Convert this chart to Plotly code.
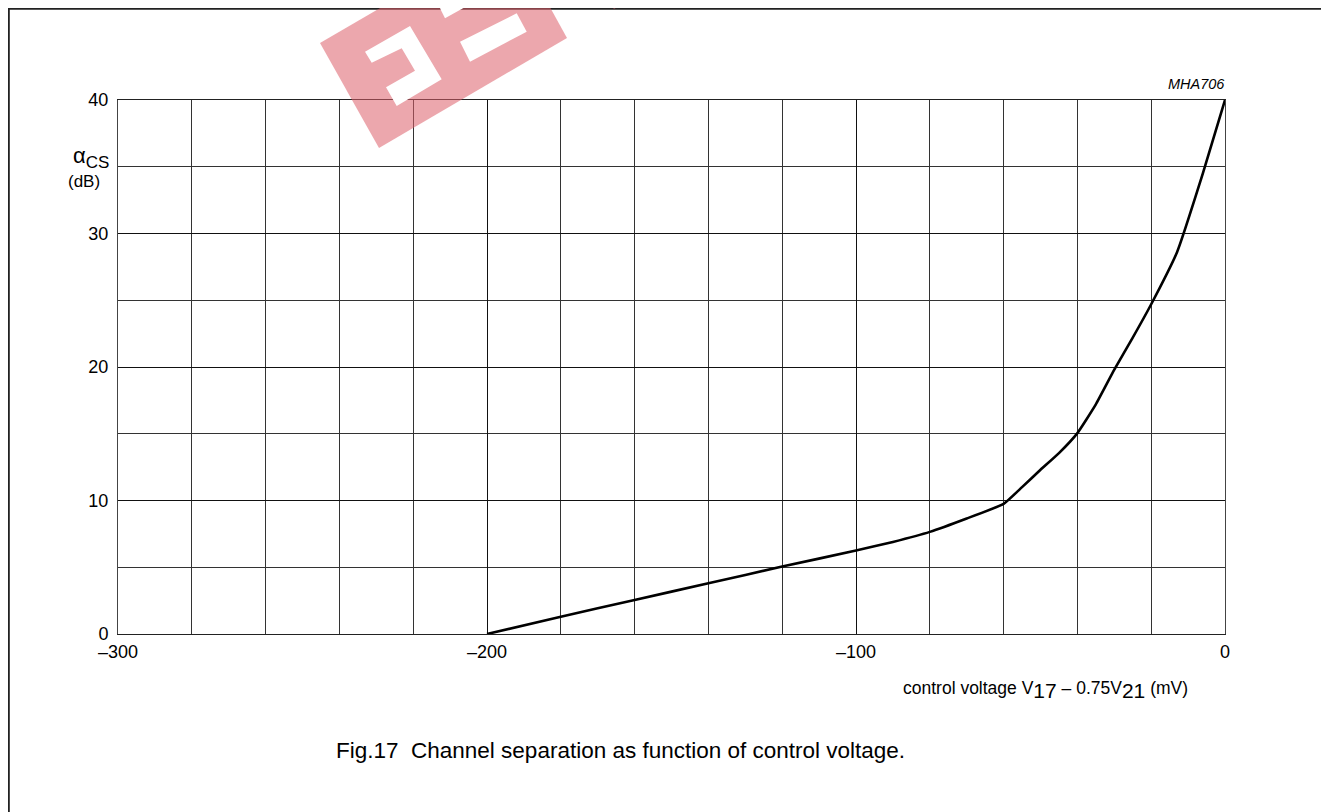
import plotly.graph_objects as go

# ---- data ----
voltage_mv = [-200, -180, -160, -140, -120, -100, -90, -80, -70, -60, -55, -50,
              -45, -40, -35, -30, -25, -20, -13, -6, 0]
separation_db = [0.0, 1.3, 2.55, 3.8, 5.05, 6.25, 6.9, 7.65, 8.65, 9.75, 11.0, 12.3,
                 13.55, 15.05, 17.2, 19.8, 22.2, 24.7, 28.6, 34.5, 40.0]
x_tick_vals = [-300, -200, -100, 0]
x_tick_text = ["\u2013300", "\u2013200", "\u2013100", "0"]
y_tick_vals = [0, 10, 20, 30, 40]

# page offset: the browser body has an 8px margin
OFF = 8
SW, SH = 1329, 812            # screenshot size
W, H = SW - OFF, SH - OFF     # figure size
L, R, T, B = 118, 1225, 100, 634  # plot area in screenshot pixels

def px(x):
    return (x - L) / (R - L)

def py(y):
    return (B - y) / (B - T)

FONT = "Liberation Sans, Arial, sans-serif"

fig = go.Figure()
fig.add_trace(go.Scatter(x=voltage_mv, y=separation_db, mode="lines",
                         line=dict(color="black", width=2.6, shape="spline", smoothing=0.4),
                         hoverinfo="skip", showlegend=False))

fig.update_layout(
    width=W, height=H,
    margin=dict(l=L - OFF, r=SW - R, t=T - OFF, b=SH - B),
    paper_bgcolor="white", plot_bgcolor="white",
    font=dict(family=FONT, size=18, color="black"),
    showlegend=False,
)
fig.update_xaxes(range=[-300, 0], tickvals=x_tick_vals, ticktext=x_tick_text,
                 showgrid=True, gridcolor="#111", gridwidth=1,
                 minor=dict(dtick=20, tick0=0, showgrid=True, gridcolor="#333", gridwidth=1),
                 showline=True, linecolor="#222", linewidth=1, mirror=True,
                 ticks="", zeroline=False, ticklabelstandoff=1,
                 tickfont=dict(family=FONT, size=18))
fig.update_yaxes(range=[0, 40], tickvals=y_tick_vals,
                 showgrid=True, gridcolor="#111", gridwidth=1,
                 minor=dict(dtick=5, tick0=0, showgrid=True, gridcolor="#333", gridwidth=1),
                 showline=True, linecolor="#444", linewidth=1, mirror=True,
                 ticks="", zeroline=False, ticklabelstandoff=5,
                 tickfont=dict(family=FONT, size=18))

# ---- watermark (semi-transparent red logo) ----
def path(points):
    return "M " + " L ".join(f"{px(a):.5f},{py(b):.5f}" for a, b in points) + " Z"

red = "rgba(221,95,105,0.55)"
shapes = [
    dict(type="path", xref="paper", yref="paper", layer="above",
         path=path([(320, 43), (379, 148), (567, 38), (509, -67)]),
         fillcolor=red, line=dict(width=0)),
    dict(type="path", xref="paper", yref="paper", layer="above",
         path=path([(606, 0), (614, 9), (640, -6), (630, -14)]),
         fillcolor=red, line=dict(width=0)),
    # white cutouts
    dict(type="path", xref="paper", yref="paper", layer="above",
         path=path([(365, 51.7), (410, 26), (441.7, 79.3), (396.7, 106), (386, 87.3),
                    (415, 70.7), (401.7, 48.3), (371.7, 62.7)]),
         fillcolor="white", line=dict(width=0)),
    dict(type="path", xref="paper", yref="paper", layer="above",
         path=path([(460, 41.7), (470, 61.7), (526.7, 31.7), (516.7, 13.3)]),
         fillcolor="white", line=dict(width=0)),
    dict(type="path", xref="paper", yref="paper", layer="above",
         path=path([(440, 8.3), (445, 18.3), (485, -4), (470, -6)]),
         fillcolor="white", line=dict(width=0)),
    # outer frame
    dict(type="rect", xref="paper", yref="paper", layer="below",
         x0=px(8.8), x1=px(1325.5), y0=py(830), y1=py(8.8),
         line=dict(color="#222", width=2), fillcolor="rgba(0,0,0,0)"),
]
fig.update_layout(shapes=shapes)

ann = [
    dict(x=91, y=157, size=22,
         text="\u03b1<sub><span style='font-size:17px'>CS</span></sub>"),
    dict(x=84, y=181, size=17, text="(dB)"),
    dict(x=1196, y=84, size=14.5, text="<i>MHA706</i>"),
    dict(x=1045, y=690, size=17.5,
         text="control voltage V<sub><span style='font-size:21px'>17</span></sub> \u2013 0.75V"
              "<sub><span style='font-size:21px'>21</span></sub> (mV)"),
    dict(x=620, y=750, size=22.5,
         text="Fig.17  Channel separation as function of control voltage."),
]
for a in ann:
    fig.add_annotation(xref="paper", yref="paper", showarrow=False,
                       xanchor="center", yanchor="middle",
                       font=dict(family=FONT, color="black", size=a["size"]),
                       x=px(a["x"]), y=py(a["y"]), text=a["text"])

fig.write_html("out.html", config=dict(displayModeBar=False))
